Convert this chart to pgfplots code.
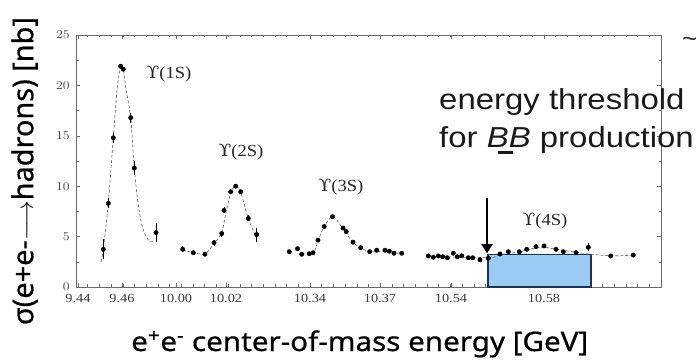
\documentclass[border=0pt]{standalone}
\usepackage{pgfplots}
\pgfplotsset{compat=1.18}
\usepackage{pgfplotstable}
\usetikzlibrary{arrows.meta}
\usepackage{fontspec}
\setmainfont{Liberation Serif}
\newfontfamily\annfont{Liberation Sans}
\newfontfamily\labfont[FakeBold=0.6]{Noto Sans}
\newfontfamily\upsfont{DejaVu Serif}
\definecolor{boxblue}{HTML}{9CCBF4}
\definecolor{boxedge}{HTML}{1E3250}
\definecolor{axgray}{HTML}{6A6A6A}
\definecolor{txtgray}{HTML}{3A3A3A}

\pgfplotstableread{
x y e
103.3 3.74 1.0
108.3 8.3 0.5
113.3 14.8 0.5
120.7 21.9 0
123.3 21.6 0
130.7 16.8 0.5
134.3 11.8 0.7
156.0 5.4 0.9
182.7 3.74 0.3
193.3 3.4 0
205.0 3.25 0.2
214.0 4.4 0.3
221.7 5.3 0.3
224.0 7.6 0.3
230.7 9.45 0
235.7 10.0 0
240.7 9.45 0
248.3 6.8 0.3
256.7 5.2 0.7
289.3 3.5 0
297.5 3.8 0
301.7 3.25 0
309.3 3.3 0
313.0 3.4 0
318.0 4.65 0
324.2 6.0 0
332.5 6.97 0
343.0 5.85 0
346.2 5.5 0
353.0 4.45 0
360.7 3.9 0
369.7 3.5 0
376.7 3.65 0
385.0 3.65 0
389.3 3.55 0
394.0 3.35 0
401.7 3.35 0
428.3 3.08 0
433.3 2.95 0
438.3 3.08 0
442.7 3.0 0
447.3 2.9 0
453.3 3.35 0
457.3 3.0 0
461.7 3.1 0
468.3 2.9 0
472.7 2.9 0
480.0 2.7 0
488.3 2.85 0
500.0 3.27 0
508.3 3.5 0
519.3 3.5 0
526.7 3.74 0
536.0 4.0 0
544.0 4.07 0
556.0 3.74 0
563.3 3.5 0
576.0 3.4 0
588.3 3.94 0.4
610.7 3.08 0
633.3 3.17 0
}\pts

\newcommand{\ups}[1]{{\upsfont ϒ}(#1)}

\begin{document}
\begin{tikzpicture}
\useasboundingbox (0,0) rectangle (698bp,364bp);
\begin{axis}[
  at={(76bp,77bp)}, anchor=south west,
  scale only axis, width=585bp, height=252bp,
  xmin=76, xmax=661, ymin=0, ymax=25,
  axis line style={axgray, line width=0.6pt},
  tick style={axgray, line width=0.5pt},
  tick align=inside,
  major tick length=4bp, minor tick length=2.5bp,
  xtick={78,122,176,226,310,380,451,544},
  xticklabels={9.44,9.46,10.00,10.02,10.34,10.37,10.54,10.58},
  minor xtick={87.7,99.4,...,655},
  ytick={0,5,10,15,20,25},
  minor y tick num=1,
  tick label style={font=\fontsize{12.5}{12.5}\selectfont, text=txtgray, xscale=1.15},
  xticklabel style={yshift=-4bp},
  yticklabel style={xshift=-2bp},
  xlabel={\labfont e\textsuperscript{+}e\textsuperscript{-} center-of-mass energy [GeV]},
  xlabel style={at={(axis description cs:0.485,-0.226)}, anchor=center, font=\fontsize{27}{28}\selectfont, text=black, xscale=1.1},
  ylabel={\labfont σ(e+e-$\longrightarrow$hadrons) [nb]},
  ylabel style={at={(axis description cs:-0.088,0.46)}, anchor=center, font=\fontsize{29}{30}\selectfont, text=black},
  clip=false,
]
% box
\addplot[fill=boxblue, draw=boxedge, line width=1.3pt] coordinates {(488,0) (488,3.25) (591,3.25) (591,0)} -- cycle;
% fit curves
\addplot[gray!70!black, densely dashed, line width=0.6pt, smooth, tension=0.5] coordinates {
(101,2.5)(103.3,3.74)(108.3,8.3)(113.3,14.8)(117,19.5)(120.7,21.9)(123.3,21.6)(126,19.6)(130.7,16.8)(134.3,11.8)(138,8.3)(142,6.1)(146,5.0)(150,4.5)(153,4.5)};
\addplot[gray!70!black, densely dashed, line width=0.6pt, smooth, tension=0.5] coordinates {
(182.7,3.7)(193.3,3.4)(205,3.3)(214,4.3)(221.7,5.4)(226,7.4)(231,9.4)(235.7,10)(240.7,9.4)(248.3,6.8)(256.7,4.8)};
\addplot[gray!70!black, densely dashed, line width=0.6pt, smooth, tension=0.5] coordinates {
(301.7,3.3)(313,3.3)(318,4.6)(324.2,6)(332.5,7)(340,6.2)(346,5.4)(353,4.4)(360.7,3.9)(370,3.5)(385,3.55)(394,3.4)(402,3.35)};
\addplot[gray!70!black, densely dashed, line width=0.6pt, smooth, tension=0.5] coordinates {
(428,3.05)(488,2.9)(500,3.2)(520,3.5)(540,3.95)(556,3.75)(576,3.45)(591,3.25)(611,3.1)(633,3.15)};
% data points
\addplot[only marks, mark=*, mark size=2.2bp, black,
  error bars/.cd, y dir=both, y explicit, error bar style={black, line width=0.6pt}, error mark=none]
  table[x=x, y=y, y error=e] {\pts};
% arrow
\addplot[black, line width=1.8pt, -{Triangle[length=9bp, width=11bp]}] coordinates {(487,8.8) (487,3.35)};
% labels
\node[font=\fontsize{17}{17}\selectfont, xscale=1.1, text=black!85] at (axis cs:169,21.1) {\ups{1S}};
\node[font=\fontsize{17}{17}\selectfont, xscale=1.1, text=black!85] at (axis cs:241,13.4) {\ups{2S}};
\node[font=\fontsize{17}{17}\selectfont, xscale=1.1, text=black!85] at (axis cs:341,9.9) {\ups{3S}};
\node[font=\fontsize{17}{17}\selectfont, xscale=1.1, text=black!85] at (axis cs:545,6.55) {\ups{4S}};
\end{axis}
\node[anchor=base west, inner sep=0, font=\annfont\fontsize{29}{30}\selectfont, xscale=1.14, text=black!90] at (439bp,254bp) {energy threshold};
\node[anchor=base west, inner sep=0, font=\annfont\fontsize{29}{30}\selectfont, xscale=1.14, text=black!90] at (439bp,216bp) {for \textit{B\kern-0.33em\rule[-0.22em]{0.45em}{0.11em}\kern-0.12em B} production};
\node[anchor=east, inner sep=0.5bp, font=\annfont\fontsize{26}{26}\selectfont, text=black!80] at (698bp,322bp) {\char"7E};
\end{tikzpicture}
\end{document}
